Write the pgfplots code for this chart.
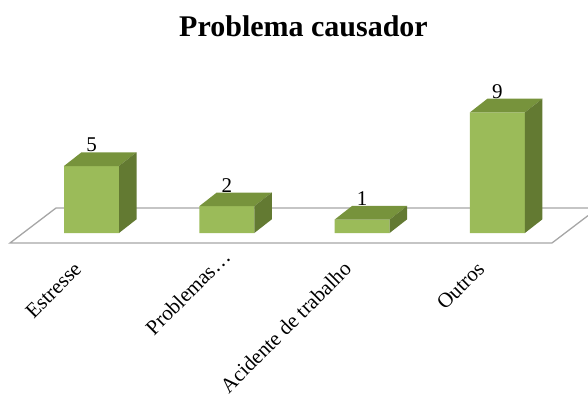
\documentclass[border=0pt]{standalone}
\usepackage{pgfplots}
\usepackage{pgfplotstable}
\pgfplotsset{compat=1.18}
\usepackage{fontspec}
\setmainfont{Liberation Serif}

\definecolor{barfront}{HTML}{9BBB59}
\definecolor{bartop}{HTML}{77933C}
\definecolor{barside}{HTML}{637A32}
\definecolor{floorline}{HTML}{A6A6A6}

% number of cases per cause
\pgfplotstableread{
idx val
0   5
1   2
2   1
3   9
}\counts

\begin{document}
\begin{tikzpicture}
\begin{axis}[
  scale only axis,
  width=588pt, height=394pt,
  xmin=-0.67627, xmax=3.66962,
  ymin=-12.0149, ymax=17.3881,
  hide axis,
  clip=false,
  no markers,
  /pgf/number format/assume math mode=true,
]
% floor of the 3-D plot area
\addplot[draw=floorline, line width=1.3pt] coordinates {
  (3.6696,1.2985) (3.4035,-0.7463) (-0.6024,-0.7463) (-0.2624,1.8657) (3.6696,1.8657)
};

% front faces of the columns, with their values
\addplot[ybar, bar width=0.4065, fill=barfront, draw=none,
  nodes near coords,
  every node near coord/.append style={inner sep=0pt, yshift=13.7pt,
    font=\fontsize{21}{21}\selectfont, text=black}]
  table[x=idx, y=val] {\counts};

% top and side faces of the columns
\pgfplotsinvokeforeach{0,1,2,3}{
  \pgfplotstablegetelem{#1}{val}\of\counts
  \let\v\pgfplotsretval
  \pgfmathsetmacro\xa{#1-0.2033}
  \pgfmathsetmacro\xb{#1+0.2033}
  \pgfmathsetmacro\xc{#1-0.2033+0.1293}
  \pgfmathsetmacro\xd{#1+0.2033+0.1293}
  \pgfmathsetmacro\vt{\v+1.022}
  \edef\faces{%
    \noexpand\addplot[fill=bartop, draw=none] coordinates {(\xa,\v) (\xb,\v) (\xd,\vt) (\xc,\vt)} -- cycle;
    \noexpand\addplot[fill=barside, draw=none] coordinates {(\xb,0) (\xd,1.022) (\xd,\vt) (\xb,\v)} -- cycle;
  }%
  \faces
}

\node[anchor=base, font=\bfseries\fontsize{30}{36}\selectfont]
  at (axis cs:1.567,14.70) {Problema causador};

\begin{scope}[every node/.style={rotate=45, anchor=base east, font=\fontsize{21}{25}\selectfont}]
\node at (axis cs:-0.048,-2.61) {Estresse};
\node at (axis cs:1.054,-1.72) {Problemas…};
\node at (axis cs:1.948,-2.61) {Acidente de trabalho};
\node at (axis cs:2.931,-2.61) {Outros};
\end{scope}
\end{axis}
\pgfresetboundingbox
\path[use as bounding box] (current axis.south west) rectangle (current axis.north east);
\end{tikzpicture}
\end{document}
